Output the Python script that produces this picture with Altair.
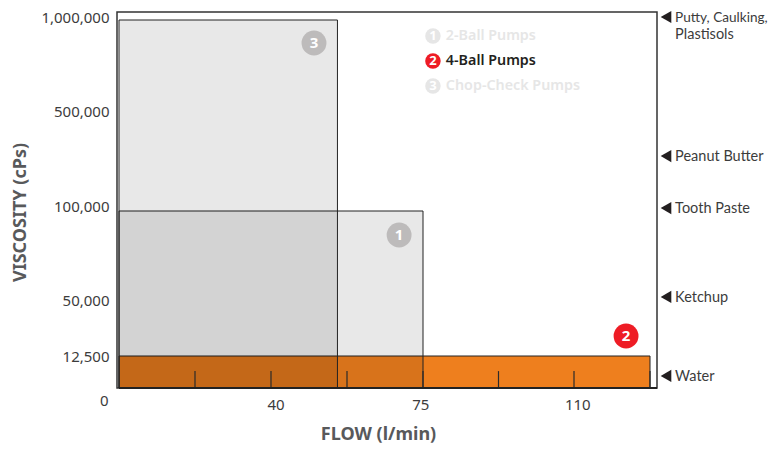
import altair as alt
import pandas as pd

FONT = "Noto Sans"
# Axis breakpoints (the reference's axes are not linear)
X_DOMAIN = [0, 40, 75, 110, 130, 131.84]
X_RANGE = [2, 154, 306, 457, 533, 540]
Y_DOMAIN = [0, 12500, 50000, 100000, 500000, 1000000, 1026600]
Y_RANGE = [376, 344, 288, 194, 99, 5, 0]

# Pump envelopes
pump_names = ["4-Ball Pumps", "2-Ball Pumps", "Chop-Check Pumps"]
pump_flow = [130, 75, 55.3]
pump_visc = [12500, 97340, 984000]
pump_fill = ["#EE7F1E", "#000000", "#000000"]
pump_opacity = [1, 0.09, 0.09]

tick_flow = [20, 40, 57.5, 75, 92.5, 110, 130]
tick_top = 6600

y_tick_values = [12500, 50000, 100000, 500000, 1000000]

x_label_text = ["40", "75", "110"]
x_label_flow = [41.15, 74.5, 111]
x_label_visc = -6640

zero_flow = -3.9
zero_visc = -5100

fluid_names = ["Putty, Caulking,", "Plastisols", "Peanut Butter", "Tooth Paste", "Ketchup", "Water"]
fluid_visc = [1000000, 909600, 310500, 98900, 51600, 4700]
fluid_size = [13.6, 14.5, 14.5, 14.5, 14.5, 14.5]
fluid_marker_visc = [1000000, 310500, 98900, 51600, 4700]
fluid_marker_flow = 134.2
fluid_text_flow = 136.6

badge_text = ["3", "1", "2"]
badge_flow = [49.9, 69.5, 123.7]
badge_visc = [861700, 84600, 25900]
badge_color = ["#BDBBBB", "#BDBBBB", "#EE1C25"]

legend_text = ["2-Ball Pumps", "4-Ball Pumps", "Chop-Check Pumps"]
legend_num = ["1", "2", "3"]
legend_flow = 77.3
legend_text_flow = 80.3
legend_visc = [898700, 765700, 632700]
legend_mark = ["#E6E6E6", "#EE1C25", "#E6E6E6"]
legend_color = ["#E6E6E6", "#231F20", "#E6E6E6"]

xs = alt.Scale(domain=X_DOMAIN, range=X_RANGE, nice=False, zero=False)
ys = alt.Scale(domain=Y_DOMAIN, range=Y_RANGE, nice=False, zero=False)


def X(field="x"):
    return alt.X(f"{field}:Q", scale=xs, axis=None)


def Y(field="y"):
    return alt.Y(f"{field}:Q", scale=ys, axis=None)


pumps = pd.DataFrame({
    "name": pump_names, "x0": [0] * 3, "x": pump_flow, "y0": [0] * 3, "y": pump_visc,
    "fill": pump_fill, "op": pump_opacity,
})
base_axes = alt.Chart(pumps).mark_rect(opacity=0).encode(
    x=alt.X("x:Q", scale=xs, axis=alt.Axis(
        title="FLOW (l/min)", labels=False, ticks=False, domain=False, grid=False,
        titleFont=FONT, titleFontSize=18, titleFontWeight="bold", titleColor="#58595B",
        titlePadding=37, titleX=261)),
    y=alt.Y("y:Q", scale=ys, axis=alt.Axis(
        title="VISCOSITY (cPs)", values=y_tick_values, labelExpr="format(datum.value, ',')", ticks=False,
        domain=False, grid=False, labelPadding=8, labelFont=FONT, labelFontSize=15,
        labelColor="#3C3C3C", titleFont=FONT, titleFontSize=18, titleFontWeight="bold",
        titleColor="#58595B", titlePadding=11, titleY=200)),
)
rects = alt.Chart(pumps).mark_rect(stroke="#222222", strokeWidth=1).encode(
    x=X("x0"), x2="x", y=Y("y0"), y2="y",
    fill=alt.Fill("fill:N", scale=None),
    fillOpacity=alt.FillOpacity("op:Q", scale=None),
)
ticks = alt.Chart(pd.DataFrame({"x": tick_flow, "y0": [0] * 7, "y": [tick_top] * 7})).mark_rule(
    color="#2B2B2B", strokeWidth=1.2).encode(x=X(), y=Y("y0"), y2="y")
baseline = alt.Chart(pd.DataFrame({"x": [X_DOMAIN[0]], "x2": [X_DOMAIN[-1]], "y": [0]})).mark_rule(
    color="#222222", strokeWidth=2).encode(x=X(), x2="x2", y=Y())

x_labels = alt.Chart(pd.DataFrame({"x": x_label_flow, "t": x_label_text, "y": [x_label_visc] * 3})).mark_text(
    font=FONT, fontSize=15, color="#3C3C3C").encode(x=X(), y=Y(), text="t:N")
zero = alt.Chart(pd.DataFrame({"x": [zero_flow], "y": [zero_visc], "t": ["0"]})).mark_text(
    font=FONT, fontSize=15, color="#3C3C3C").encode(x=X(), y=Y(), text="t:N")

fluids = pd.DataFrame({"t": fluid_names, "y": fluid_visc, "s": fluid_size, "xt": [fluid_text_flow] * 6})
fluid_marks = alt.Chart(pd.DataFrame({"y": fluid_marker_visc, "xm": [fluid_marker_flow] * 5})).mark_point(
    shape="triangle-left", filled=True, size=150, color="#231F20", opacity=1).encode(x=X("xm"), y=Y())
fluid_text = alt.Chart(fluids).mark_text(
    font="Lato", color="#3C3C3C", align="left", baseline="middle", dy=1
).encode(x=X("xt"), y=Y(), text="t:N", size=alt.Size("s:Q", scale=None))

badges = pd.DataFrame({"t": badge_text, "x": badge_flow, "y": badge_visc, "c": badge_color})
badge_marks = alt.Chart(badges).mark_circle(size=620, opacity=1).encode(
    x=X(), y=Y(), color=alt.Color("c:N", scale=None))
badge_text_marks = alt.Chart(badges).mark_text(
    font=FONT, fontSize=15, fontWeight="bold", color="white").encode(x=X(), y=Y(), text="t:N")

legend = pd.DataFrame({
    "t": legend_text, "n": legend_num, "y": legend_visc, "m": legend_mark, "c": legend_color,
    "xm": [legend_flow] * 3, "xt": [legend_text_flow] * 3,
})
legend_marks = alt.Chart(legend).mark_circle(size=240, opacity=1).encode(
    x=X("xm"), y=Y(), color=alt.Color("m:N", scale=None))
legend_nums = alt.Chart(legend).mark_text(
    font=FONT, fontSize=13, fontWeight="bold", color="white").encode(x=X("xm"), y=Y(), text="n:N")
legend_labels = alt.Chart(legend).mark_text(
    font=FONT, fontSize=14.3, fontWeight=600, align="left").encode(
    x=X("xt"), y=Y(), text="t:N", color=alt.Color("c:N", scale=None))

chart = alt.layer(
    base_axes, rects, ticks, baseline, x_labels, zero, fluid_marks, fluid_text,
    badge_marks, badge_text_marks, legend_marks, legend_nums, legend_labels,
).resolve_scale(color="independent").resolve_axis(x="independent", y="independent").properties(
    width=540, height=376,
    autosize=alt.AutoSizeParams(type="none"),
    padding={"left": 109, "top": 4, "right": 113, "bottom": 57},
).configure_view(stroke="#333333", strokeWidth=1.5)

chart.save("out.html", embed_options={"renderer": "svg", "actions": False})
